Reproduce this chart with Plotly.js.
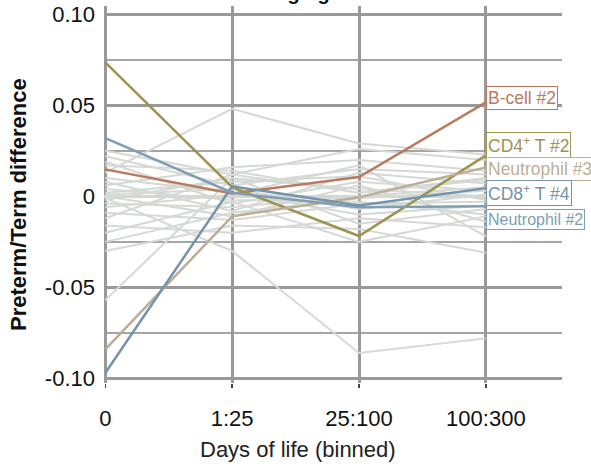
<!DOCTYPE html>
<html>
<head>
<meta charset="utf-8">
<script src="https://cdn.plot.ly/plotly-3.0.1.min.js"></script>
<style>html,body{margin:0;padding:0;background:#fff;overflow:hidden;}#chart{width:591px;height:467px;}</style>
</head>
<body>
<div id="chart"></div>
<script>
// Categories (binned days of life)
const categories = ["0", "1:25", "25:100", "100:300"];

// Highlighted series
const highlightNames = ["B-cell #2", "CD4<sup>+</sup> T #2", "Neutrophil #3", "CD8<sup>+</sup> T #4", "Neutrophil #2"];
const bcell2      = [0.0148, 0.0016, 0.0106, 0.0516];
const cd4t2       = [0.0736, 0.0050, -0.0218, 0.0225];
const neutrophil3 = [-0.0840, -0.0110, -0.0005, 0.0159];
const cd8t4       = [-0.0970, 0.0055, -0.0050, 0.0045];
const neutrophil2 = [0.0320, 0.0020, -0.0060, -0.0055];
const highlightColors = ["#b97b5f", "#9e9350", "#bcae96", "#7394a9", "#7f9eb4"];
// label centre positions (y data units) for the repelled label boxes
const labelY = [0.0538, 0.0280, 0.0148, 0.0016, -0.0126];

// Background (other cell types) series
const others = [
  [0.013, 0.048, 0.029, 0.023],
  [-0.001, -0.030, -0.086, -0.078],
  [-0.057, 0.010, 0.004, 0.000],
  [-0.030, -0.016, -0.018, -0.031],
  [0.025, 0.012, 0.026, 0.020],
  [0.022, 0.006, 0.015, 0.012],
  [0.019, -0.004, 0.008, 0.003],
  [0.017, 0.014, 0.002, 0.010],
  [0.010, 0.002, -0.010, -0.005],
  [0.008, -0.008, 0.013, 0.007],
  [0.006, 0.016, 0.020, 0.014],
  [0.004, -0.002, -0.003, -0.010],
  [0.002, 0.008, 0.011, -0.002],
  [0.001, 0.004, -0.007, 0.001],
  [0.000, -0.011, 0.006, -0.014],
  [-0.002, 0.010, -0.015, -0.007],
  [-0.004, -0.006, 0.000, 0.005],
  [-0.006, 0.001, 0.017, -0.022],
  [-0.009, -0.013, -0.004, -0.003],
  [-0.012, 0.012, 0.002, 0.009],
  [-0.016, -0.020, -0.012, -0.017],
  [-0.020, -0.003, -0.025, -0.011],
  [-0.025, -0.009, -0.001, 0.003]
];

const yTickVals = [-0.10, -0.05, 0, 0.05, 0.10];
const yTickText = ["-0.10", "-0.05", "0", "0.05", "0.10"];
const xTitle = "Days of life (binned)";
const yTitle = "<b>Preterm/Term difference</b>";

const traces = [];
others.forEach(v => traces.push({
  x: categories, y: v, type: "scatter", mode: "lines",
  line: {color: "#d5d9d5", width: 2}, hoverinfo: "skip", showlegend: false
}));
const highlights = [bcell2, cd4t2, neutrophil3, cd8t4, neutrophil2];
highlights.forEach((v, i) => traces.push({
  x: categories, y: v, type: "scatter", mode: "lines", name: highlightNames[i],
  line: {color: highlightColors[i], width: 2.5}, showlegend: false
}));

const annotations = highlightNames.map((n, i) => ({
  x: categories[3], y: labelY[i], xref: "x", yref: "y",
  text: n, showarrow: false, xanchor: "left", yanchor: "middle",
  font: {family: "Liberation Sans, Arial, sans-serif", size: i === 4 ? 16 : 17.5, color: highlightColors[i]},
  bgcolor: "#ffffff", bordercolor: highlightColors[i], borderwidth: 1, borderpad: 1
}));
// axis titles placed as in the reference (centred on the whole panel, not the plot area)
annotations.push({
  text: xTitle, xref: "paper", yref: "paper", x: 0.4236, y: -0.1777,
  xanchor: "center", yanchor: "middle", showarrow: false,
  font: {family: "Liberation Sans, Arial, sans-serif", size: 22, color: "#222"}
});
annotations.push({
  text: yTitle, xref: "paper", yref: "paper", x: -0.1878, y: 0.4748,
  xanchor: "center", yanchor: "middle", textangle: -90, showarrow: false,
  font: {family: "Liberation Sans, Arial, sans-serif", size: 22, color: "#111"}
});

const layout = {
  width: 591, height: 467,
  margin: {l: 104, r: 29, t: 6, b: 84},
  paper_bgcolor: "#ffffff", plot_bgcolor: "#ffffff",
  font: {family: "Liberation Sans, Arial, sans-serif", size: 22, color: "#111"},
  title: {text: "<b>Cell differences with aging</b>", x: 0.558, xanchor: "right",
          yref: "container", y: 0.9995, yanchor: "bottom",
          font: {size: 20, color: "#111"}},
  xaxis: {
    type: "category", categoryorder: "array", categoryarray: categories,
    range: [-0.01, 3.6],
    showgrid: true, gridcolor: "#999999", gridwidth: 3,
    zeroline: false, showline: false,
    ticks: "outside", ticklen: 4, tickwidth: 1.5, tickcolor: "#444",
    ticklabelstandoff: 12,
    tickfont: {size: 22, color: "#111"}
  },
  yaxis: {
    range: [-0.1025, 0.1045],
    tickvals: yTickVals, ticktext: yTickText,
    showgrid: true, gridcolor: "#999999", gridwidth: 3,
    minor: {dtick: 0.025, tick0: 0, showgrid: true, gridcolor: "#a5a5a5", gridwidth: 2, ticks: ""},
    zeroline: true, zerolinecolor: "#d3d7d3", zerolinewidth: 3,
    showline: false, ticks: "",
    ticklabelstandoff: 8,
    tickfont: {size: 22, color: "#111"}
  },
  annotations: annotations,
  showlegend: false
};

Plotly.newPlot("chart", traces, layout, {displayModeBar: false, staticPlot: true});
</script>
</body>
</html>
